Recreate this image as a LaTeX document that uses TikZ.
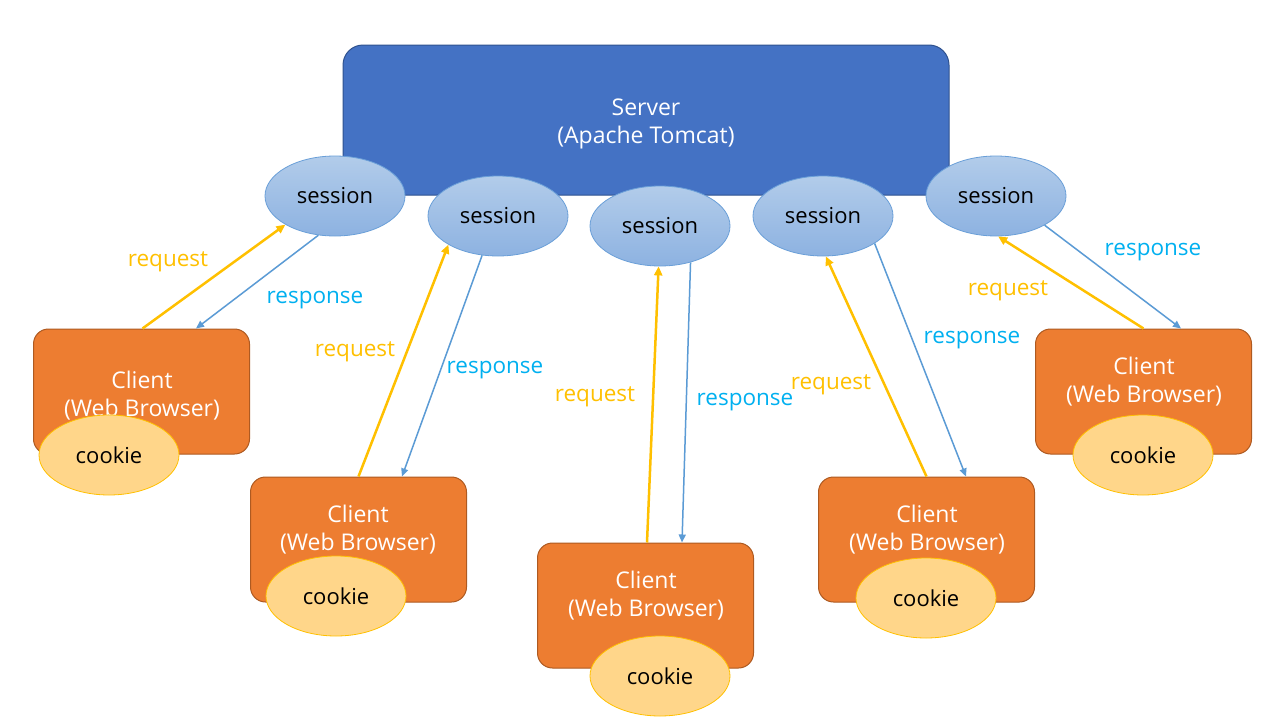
\documentclass[tikz,border=0pt]{standalone}
\usepackage{fontspec}
\setmainfont{Open Sans}
\usetikzlibrary{arrows.meta,shapes.geometric}
\definecolor{srvfill}{HTML}{4472C4}
\definecolor{srvline}{HTML}{2F528F}
\definecolor{clifill}{HTML}{ED7D31}
\definecolor{cliline}{HTML}{AE5A21}
\definecolor{cookfill}{HTML}{FFD68A}
\definecolor{cookline}{HTML}{FFC000}
\definecolor{sestop}{HTML}{B2CCEA}
\definecolor{sesbot}{HTML}{8DB2E1}
\definecolor{sesline}{HTML}{6A9FD8}
\definecolor{reqcol}{HTML}{FFC000}
\definecolor{respcol}{HTML}{5B9BD5}
\definecolor{resptext}{HTML}{00B0F0}
\tikzset{
  server/.style={draw=srvline, line width=1pt, fill=srvfill, rounded corners=20pt,
    minimum width=606pt, minimum height=150pt},
  session/.style={ellipse, draw=sesline, line width=0.8pt, top color=sestop, bottom color=sesbot,
    minimum width=140pt, minimum height=80pt, inner sep=0pt, font=\fontsize{22}{26}\selectfont},
  client/.style={draw=cliline, line width=1pt, fill=clifill, rounded corners=15pt,
    minimum width=216pt, minimum height=125pt},
  cookie/.style={ellipse, draw=cookline, line width=0.8pt, fill=cookfill,
    minimum width=140pt, minimum height=80pt, inner sep=0pt, font=\fontsize{22}{26}\selectfont},
  req/.style={draw=reqcol, line width=2.5pt, -{Triangle[length=9pt,width=8pt]}},
  resp/.style={draw=respcol, line width=1.5pt, -{Triangle[length=8pt,width=7pt]}},
  reqlabel/.style={text=reqcol, font=\fontsize{22.5}{26}\selectfont, inner sep=0pt, yshift=-4pt},
  resplabel/.style={text=resptext, font=\fontsize{22.5}{26}\selectfont, inner sep=0pt, yshift=-4pt},
  lbl/.style={inner sep=0pt, text=white, align=center, font=\fontsize{23}{28}\selectfont, yshift=-3.5pt}
}
\begin{document}
\begin{tikzpicture}[x=1pt,y=-1pt]
\useasboundingbox[fill=white] (0,0) rectangle (1280,720);
% server
\node[server] (srv) at (646,120) {};
\node[lbl] (srvt) at (646,120) {Server\\(Apache Tomcat)};
% sessions
\node[session] (s1) at (335,196) {session};
\node[session] (s2) at (498,216) {session};
\node[session] (s3) at (660,226) {session};
\node[session] (s4) at (823,216) {session};
\node[session] (s5) at (996,196) {session};
% clients
\node[client] (c1) at (141.5,391.5) {};
\node[client] (c2) at (358.5,539.5) {};
\node[client] (c3) at (645.5,605.5) {};
\node[client] (c4) at (926.5,539.5) {};
\node[client] (c5) at (1143.5,391.5) {};
\node[lbl] (c1t) at (142,392) {Client\\(Web Browser)};
\node[lbl] (c2t) at (358,526) {Client\\(Web Browser)};
\node[lbl] (c3t) at (646,592) {Client\\(Web Browser)};
\node[lbl] (c4t) at (927,526) {Client\\(Web Browser)};
\node[lbl] (c5t) at (1144,378) {Client\\(Web Browser)};
% cookies
\node[cookie] (k1) at (109,455) {cookie};
\node[cookie] (k2) at (336,596) {cookie};
\node[cookie] (k3) at (660,676) {cookie};
\node[cookie] (k4) at (926,598) {cookie};
\node[cookie] (k5) at (1143,455) {cookie};
% requests
\draw[req] ([xshift=1pt]c1.north) -- (s1.210);
\draw[req] (c2.north) -- (s2.210);
\draw[req] ([xshift=1.5pt]c3.north) -- (s3.268);
\draw[req] (c4.north) -- (s4.274);
\draw[req] (c5.north) -- (s5.273);
% responses
\draw[resp] (s1.247) -- ([xshift=54.5pt]c1.north);
\draw[resp] (s2.248) -- ([xshift=43.5pt]c2.north);
\draw[resp] (s3.310) -- ([xshift=36.5pt]c3.north);
\draw[resp] (s4.332) -- ([xshift=39.5pt]c4.north);
\draw[resp] (s5.329) -- ([xshift=37.5pt]c5.north);
% labels
\node[reqlabel] (rq1) at (168,258) {request};
\node[reqlabel] (rq2) at (355,348) {request};
\node[reqlabel] (rq3) at (595,393) {request};
\node[reqlabel] (rq4) at (831,381) {request};
\node[reqlabel] (rq5) at (1008,287) {request};
\node[resplabel] (rp1) at (315,296) {response};
\node[resplabel] (rp2) at (495,366) {response};
\node[resplabel] (rp3) at (745,398) {response};
\node[resplabel] (rp4) at (972,336) {response};
\node[resplabel] (rp5) at (1153,248) {response};
\end{tikzpicture}
\end{document}
